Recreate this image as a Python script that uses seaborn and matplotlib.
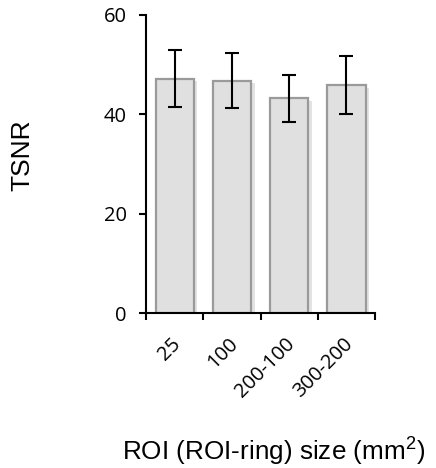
import matplotlib
matplotlib.use("Agg")
import matplotlib.pyplot as plt
import matplotlib.transforms as mtransforms
import matplotlib.patheffects as pe
import seaborn as sns
import pandas as pd
import numpy as np
from matplotlib.ticker import FixedLocator

categories = ["25", "100", "200-100", "300-200"]
tsnr_mean = [47.2, 46.8, 43.2, 45.9]
tsnr_err = [5.7, 5.5, 4.8, 5.8]
y_ticks = [0, 20, 40, 60]

sns.set_theme(style="white")
plt.rcParams['font.family'] = ['Open Sans', 'DejaVu Sans']
plt.rcParams['text.color'] = 'black'
plt.rcParams['xtick.color'] = 'black'
plt.rcParams['ytick.color'] = 'black'
plt.rcParams['mathtext.default'] = 'regular'

df = pd.DataFrame({"size": categories, "tsnr": tsnr_mean})

fig = plt.figure(figsize=(4.36, 4.68), dpi=100)
ax = fig.add_axes([0.335, 0.331, 0.525, 0.637])

sns.barplot(data=df, x="size", y="tsnr", ax=ax, color="#e0e0e0",
            edgecolor="#9a9a9a", linewidth=1.6, width=0.67, saturation=1,
            errorbar=None)
for patch in ax.patches:
    patch.set_path_effects([
        pe.SimplePatchShadow(offset=(2.5, -2), shadow_rgbFace="#b0b0b0", alpha=0.35),
        pe.Normal(),
    ])
ax.errorbar(x=np.arange(len(categories)), y=tsnr_mean, yerr=tsnr_err,
            fmt="none", ecolor="black", elinewidth=1.5, capsize=5, capthick=1.5)

ax.set_xlim(-0.5, len(categories) - 0.5)
ax.set_ylim(0, 60)
ax.set_yticks(y_ticks)
ax.tick_params(axis="y", which="major", direction="out", length=5, width=1.5,
               color="black", labelcolor="black", labelsize=14.5, pad=9, left=True)
ax.set_xticks(np.arange(len(categories)))
ax.set_xticklabels(categories, rotation=45, ha="right", va="top",
                   rotation_mode="anchor", fontsize=14.5, color="black")
ax.tick_params(axis="x", which="major", length=0, pad=15)
ax.xaxis.set_minor_locator(FixedLocator(np.arange(-0.5, len(categories), 1.0)))
ax.tick_params(axis="x", which="minor", direction="out", length=5, width=1.5,
               color="black", bottom=True)

offset = mtransforms.ScaledTranslation(-4 / 100, 0, fig.dpi_scale_trans)
for lab in ax.get_xticklabels():
    lab.set_transform(lab.get_transform() + offset)

for s in ["top", "right"]:
    ax.spines[s].set_visible(False)
for s in ["left", "bottom"]:
    ax.spines[s].set_color("black")
    ax.spines[s].set_linewidth(1.5)
    ax.spines[s].set_zorder(5)

ax.set_ylabel("")
ax.set_xlabel("")
fig.text(0.052, 0.669, "TSNR", rotation=90, ha="center", va="center",
         fontsize=19, color="black", family=["Liberation Sans", "DejaVu Sans"])
fig.text(0.627, 0.016, "ROI (ROI-ring) size (mm$^{2}$)", ha="center",
         va="baseline", fontsize=18.8, color="black",
         family=["Liberation Sans", "DejaVu Sans"])

fig.savefig("out.png", dpi=100)
